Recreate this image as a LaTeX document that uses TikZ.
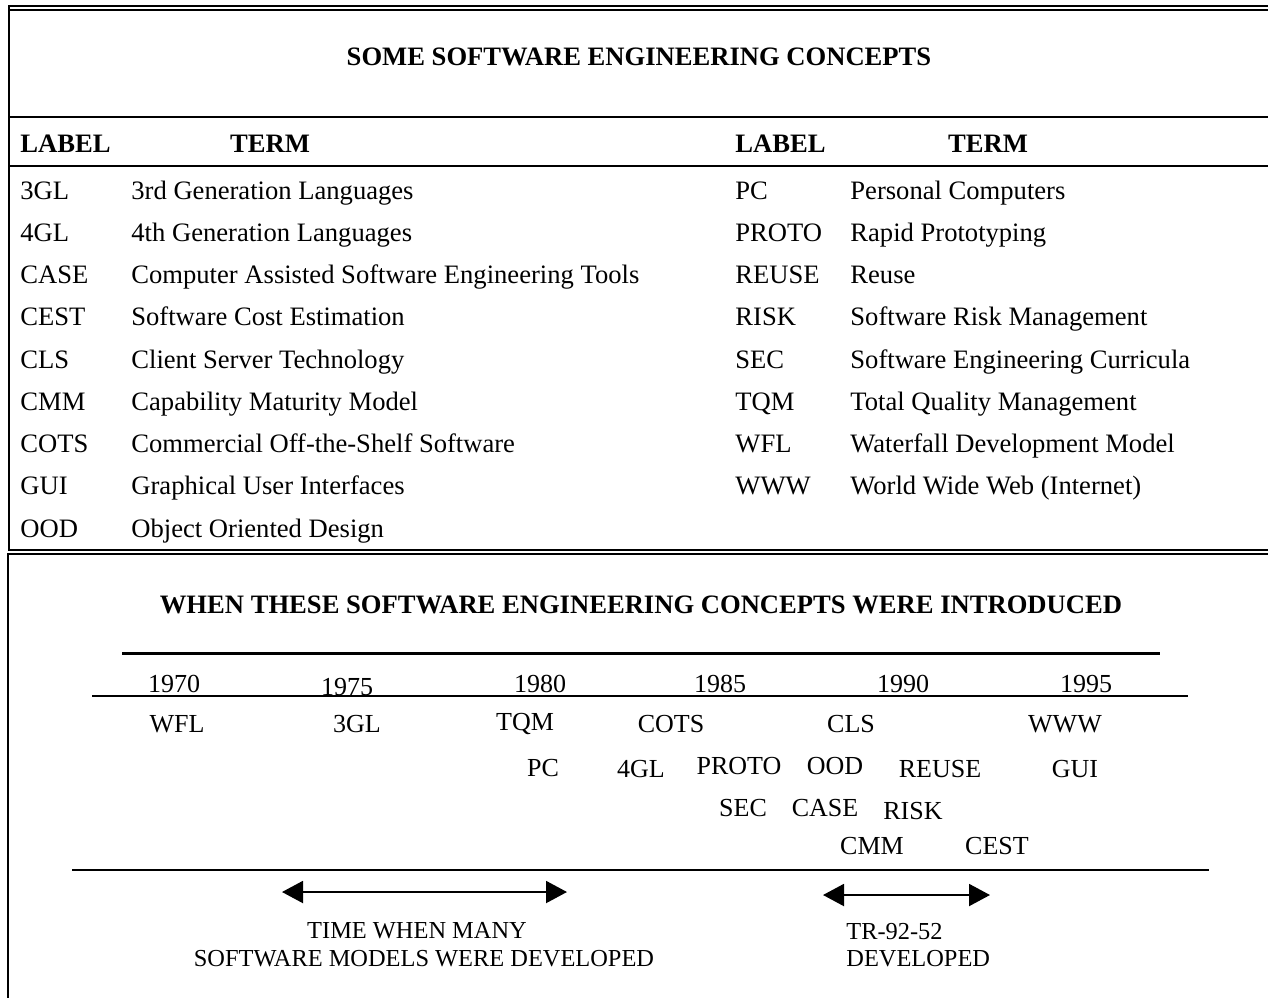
\documentclass[tikz,border=0pt]{standalone}
\usepackage{fontspec}
\setmainfont{Liberation Serif}
\usetikzlibrary{arrows.meta}

\tikzset{
    rule/.style={line width=1pt},
    txt/.style={inner sep=0pt, anchor=base west, font=\fontsize{13.3}{16}\selectfont},
    hdr/.style={inner sep=0pt, anchor=base, font=\fontsize{13.3}{16}\selectfont\bfseries},
    item/.style={inner sep=0pt, anchor=base, font=\fontsize{13}{16}\selectfont},
    note/.style={inner sep=0pt, font=\fontsize{12.2}{15}\selectfont},
    span/.style={line width=1pt, {Triangle[length=10.5pt,width=11pt]}-{Triangle[length=10.5pt,width=11pt]}}
}

\begin{document}
\begin{tikzpicture}[x=0.5pt,y=-0.5pt]
    \useasboundingbox (0,0) rectangle (1268,998);
    % frame of the two boxes
    \draw[rule] (8,6) -- (1268,6);
    \draw[rule] (8,10) -- (1268,10);
    \draw[rule] (9,5) -- (9,551);
    \draw[rule] (8,117) -- (1268,117);
    \draw[rule] (8,166) -- (1268,166);
    \draw[rule] (8,550) -- (1268,550);
    \draw[rule] (8,554) -- (1268,554);
    \draw[rule] (8,553) -- (8,998);

    % table of terms
    \node[hdr] (title) at (639,65) {SOME SOFTWARE ENGINEERING CONCEPTS};
    \node[hdr, anchor=base west] (hlabl) at (20,152) {LABEL};
    \node[hdr] (hterml) at (270,152) {TERM};
    \node[hdr, anchor=base west] (hlabr) at (735,152) {LABEL};
    \node[hdr] (htermr) at (988,152) {TERM};
    \foreach \lab/\term [count=\i] in {3GL/3rd Generation Languages,
            4GL/4th Generation Languages,
            CASE/Computer Assisted Software Engineering Tools,
            CEST/Software Cost Estimation,
            CLS/Client Server Technology,
            CMM/Capability Maturity Model,
            COTS/Commercial Off-the-Shelf Software,
            GUI/Graphical User Interfaces,
            OOD/Object Oriented Design} {
        \node[txt] (ll\i) at (20,{199+42.25*(\i-1)}) {\lab};
        \node[txt] (lt\i) at (131,{199+42.25*(\i-1)}) {\term};
    }
    \foreach \lab/\term [count=\i] in {PC/Personal Computers,
            PROTO/Rapid Prototyping,
            REUSE/Reuse,
            RISK/Software Risk Management,
            SEC/Software Engineering Curricula,
            TQM/Total Quality Management,
            WFL/Waterfall Development Model,
            WWW/{World Wide Web (Internet)}} {
        \node[txt] (rl\i) at (735,{199+42.25*(\i-1)}) {\lab};
        \node[txt] (rt\i) at (850,{199+42.25*(\i-1)}) {\term};
    }

    % time line
    \node[hdr] (title2) at (641,613) {WHEN THESE SOFTWARE ENGINEERING CONCEPTS WERE INTRODUCED};
    \draw[line width=1.5pt] (122,653) -- (1160,653);
    \foreach \px/\py/\t in {174/692/1970, 347/695/1975, 540/692/1980,
            720/692/1985, 903/692/1990, 1086/692/1995} {
        \node[item] (y\t) at (\px,\py) {\t};
    }
    \draw[rule] (92,696) -- (1188,696);
    \foreach \px/\py/\t in {177/732/WFL, 357/732/3GL, 525/730/TQM, 671/732/COTS,
            851/732/CLS, 1065/732/WWW,
            543/776/PC, 641/777/4GL, 739/774/PROTO, 835/774/OOD,
            940/777/REUSE, 1075/777/GUI,
            743/816/SEC, 825/816/CASE, 913/819/RISK,
            872/854/CMM, 997/854/CEST} {
        \node[item] (t\t) at (\px,\py) {\t};
    }
    \draw[rule] (72,870) -- (1209,870);

    % periods
    \coordinate (a1l) at (282,892);
    \coordinate (a1r) at (567,892);
    \draw[span] (a1l) -- (a1r);
    \coordinate (a2l) at (823,895);
    \coordinate (a2r) at (990,895);
    \draw[span] (a2l) -- (a2r);
    \node[note, anchor=base] (n1a) at (417,938) {TIME WHEN MANY};
    \node[note, anchor=base] (n1b) at (424,966) {SOFTWARE MODELS WERE DEVELOPED};
    \node[note, anchor=base west] (n2a) at (846,939) {TR-92-52};
    \node[note, anchor=base west] (n2b) at (846,966) {DEVELOPED};
\end{tikzpicture}
\end{document}
